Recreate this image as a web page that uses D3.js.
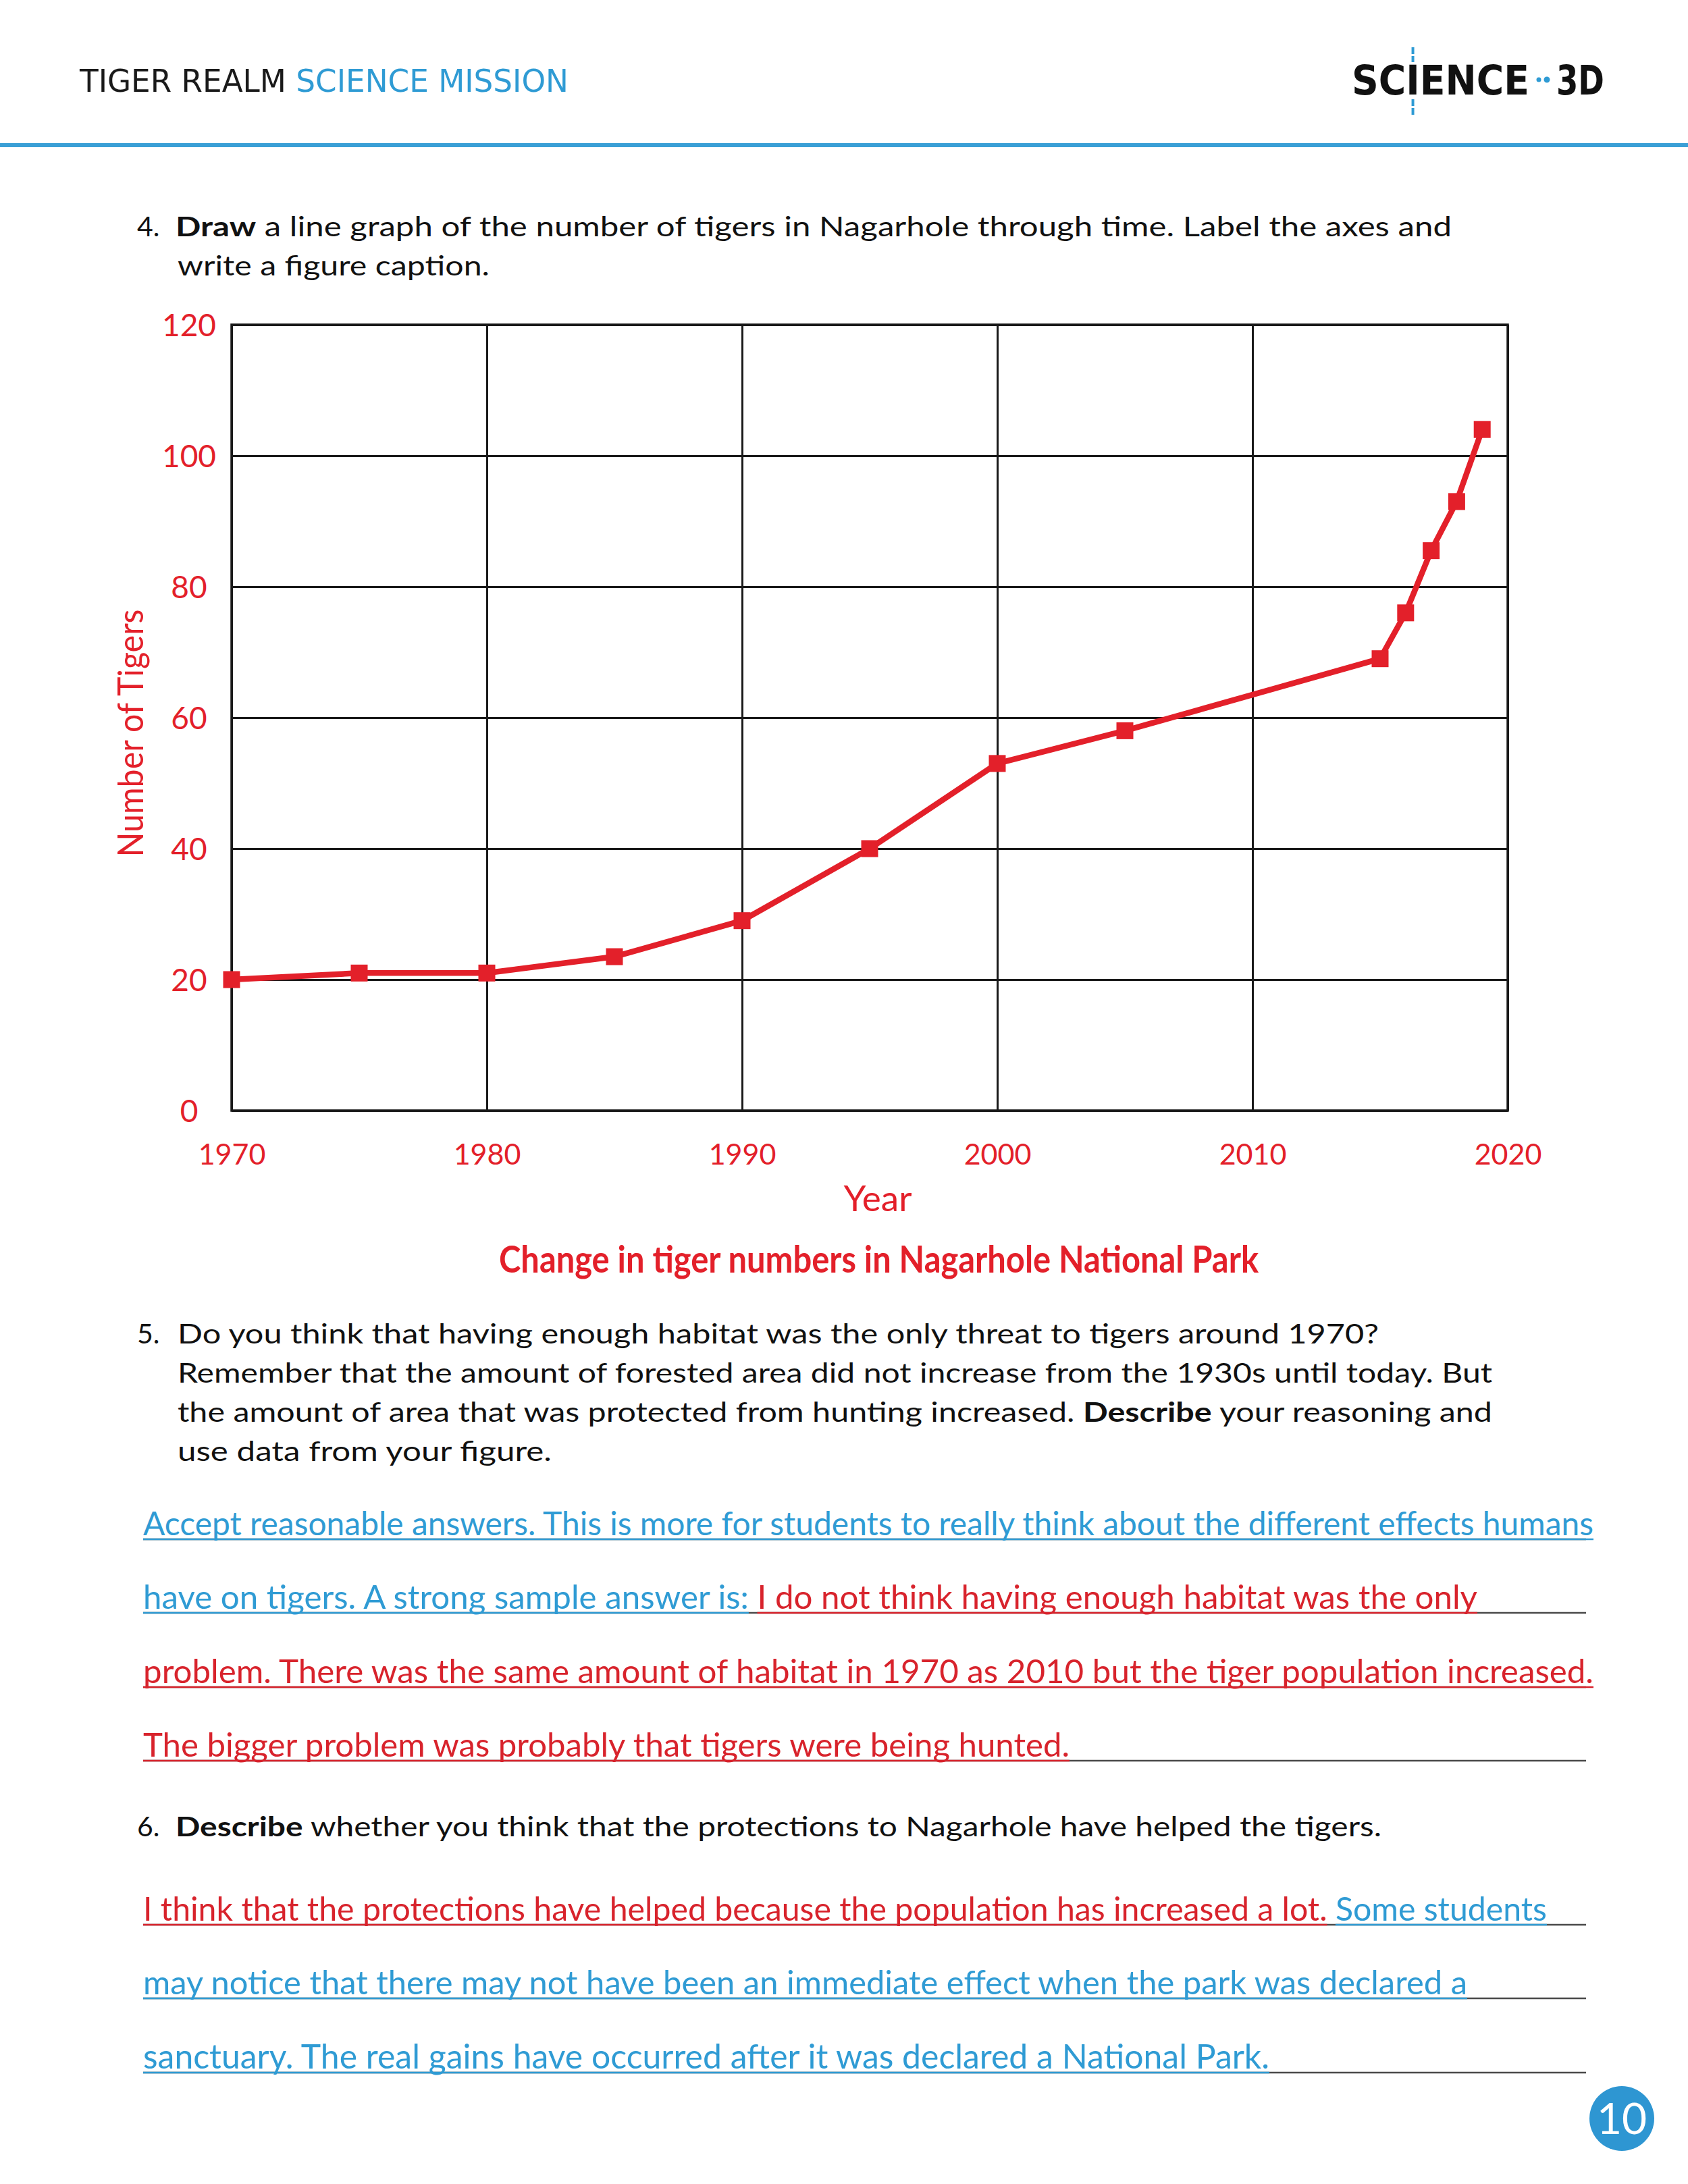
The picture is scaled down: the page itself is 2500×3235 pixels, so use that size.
<!DOCTYPE html>
<html><head><meta charset="utf-8">
<script src="https://cdn.jsdelivr.net/npm/d3@7"></script>
<style>body{margin:0;background:#fff}svg{display:block}</style>
</head><body>
<svg id="page" width="2500" height="3235"></svg>
<script>
// ---- chart data ----
const years  = [1970, 1975, 1980, 1985, 1990, 1995, 2000, 2005, 2015, 2016, 2017, 2018, 2019];
const tigers = [20, 21, 21, 23.5, 29, 40, 53, 58, 69, 76, 85.5, 93, 104];
const xTicks = [1970, 1980, 1990, 2000, 2010, 2020];
const yTicks = [0, 20, 40, 60, 80, 100, 120];
const xTitle = "Year";
const yTitle = "Number of Tigers";
const caption = "Change in tiger numbers in Nagarhole National Park";

// ---- page text ----
const q4 = [
  [{t:"Draw",b:true},{t:" a line graph of the number of tigers in Nagarhole through time. Label the axes and"}],
  [{t:"write a figure caption."}]
];
const q5 = [
  [{t:"Do you think that having enough habitat was the only threat to tigers around 1970?"}],
  [{t:"Remember that the amount of forested area did not increase from the 1930s until today. But"}],
  [{t:"the amount of area that was protected from hunting increased. "},{t:"Describe",b:true},{t:" your reasoning and"}],
  [{t:"use data from your figure."}]
];
const q6 = [
  [{t:"Describe",b:true},{t:" whether you think that the protections to Nagarhole have helped the tigers."}]
];
const a5 = [
  [{t:"Accept reasonable answers. This is more for students to really think about the different effects humans",c:"blue"}],
  [{t:"have on tigers. A strong sample answer is: ",c:"blue"},{t:"I do not think having enough habitat was the only",c:"red"}],
  [{t:"problem. There was the same amount of habitat in 1970 as 2010 but the tiger population increased.",c:"red"}],
  [{t:"The bigger problem was probably that tigers were being hunted.",c:"red"}]
];
const a6 = [
  [{t:"I think that the protections have helped because the population has increased a lot. ",c:"red"},{t:"Some students",c:"blue"}],
  [{t:"may notice that there may not have been an immediate effect when the park was declared a",c:"blue"}],
  [{t:"sanctuary. The real gains have occurred after it was declared a National Park.",c:"blue"}]
];

const RED = "#e3202a", ARED = "#d8232c", BLUE = "#2f9bd4", FONT = "Lato, 'Noto Sans', sans-serif";
const svg = d3.select("#page");

// header
const hdr = svg.append("text").attr("x",118).attr("y",136)
  .attr("font-family","'DejaVu Sans Condensed','DejaVu Sans',sans-serif").attr("font-size",46)
  .attr("textLength",724).attr("lengthAdjust","spacingAndGlyphs");
hdr.append("tspan").attr("fill","#1a1a1a").text("TIGER REALM ");
hdr.append("tspan").attr("fill",BLUE).text("SCIENCE MISSION");

// logo
const logo = svg.append("text").attr("x",2002).attr("y",140)
  .attr("font-family","'DejaVu Sans','Liberation Sans',sans-serif").attr("font-weight","bold")
  .attr("font-size",60).attr("fill","#111").attr("textLength",263).attr("lengthAdjust","spacingAndGlyphs")
  .text("SCIENCE");
svg.append("text").attr("x",2305).attr("y",140)
  .attr("font-family","'DejaVu Sans','Liberation Sans',sans-serif").attr("font-weight","bold")
  .attr("font-size",60).attr("fill","#111").attr("textLength",71).attr("lengthAdjust","spacingAndGlyphs")
  .text("3D");
svg.append("circle").attr("cx",2279).attr("cy",118).attr("r",3.5).attr("fill",BLUE);
svg.append("circle").attr("cx",2291).attr("cy",118).attr("r",4.5).attr("fill",BLUE);
let ix = 2094;
try { const e = logo.node().getExtentOfChar(2); ix = e.x + e.width/2; } catch(err) {}
[[70,92],[147,172]].forEach(([a,b]) => svg.append("line").attr("x1",ix).attr("x2",ix).attr("y1",a).attr("y2",b)
  .attr("stroke",BLUE).attr("stroke-width",4).attr("stroke-dasharray","10,3"));
svg.append("rect").attr("x",0).attr("y",212).attr("width",2500).attr("height",6).attr("fill","#3a9fd6");

// text helper: each span is its own text element; font shrinks to fit, then fine-tuned with textLength
function line(x, y, spans, size, width, opts={}) {
  const colorOf = s => s.c === "red" ? ARED : s.c === "blue" ? BLUE : "#111";
  const els = spans.map(s => svg.append("text").attr("y",y).attr("font-family",FONT).attr("font-size",size)
      .attr("font-weight", s.b ? "bold" : null).attr("fill", colorOf(s))
      .style("white-space","pre").text(s.t));
  const measure = () => els.map(e => e.node().getComputedTextLength());
  let nat = measure();
  let total = nat.reduce((a,b) => a+b, 0);
  if (total > width) {
    const fs = size * width / total;
    els.forEach(e => e.attr("font-size", fs));
    nat = measure();
    total = nat.reduce((a,b) => a+b, 0);
  }
  const k = width / total;
  let cx = x;
  els.forEach((e, i) => {
    const s = spans[i];
    const trimmed = s.t.trim();
    const nWs = s.t.length - trimmed.length;
    const lead = s.t.length - s.t.replace(/^\s+/,"").length;
    e.text(trimmed).style("white-space",null);
    const tw = e.node().getComputedTextLength();
    const leadW = nWs ? (nat[i] - tw) * (lead / nWs) : 0;
    const x0 = cx + leadW * k;
    e.attr("x", x0).attr("textLength", tw * k).attr("lengthAdjust","spacingAndGlyphs");
    if (opts.underline) {
      svg.append("line").attr("x1",x0).attr("x2",x0 + tw*k).attr("y1",y+6).attr("y2",y+6)
        .attr("stroke", colorOf(s)).attr("stroke-width",2.5);
    }
    cx += nat[i] * k;
  });
}
function num(x, y, s) {
  svg.append("text").attr("x",x).attr("y",y).attr("font-family",FONT).attr("font-size",41).attr("fill","#111").text(s);
}

// Q4
num(203,350,"4.");
line(260,350,q4[0],40,1890);
line(263,408,q4[1],40,462);

// chart
const x = d3.scaleLinear().domain([1970,2020]).range([343,2233]);
const y = d3.scaleLinear().domain([0,120]).range([1645,481]);
const gx = svg.append("g").attr("transform","translate(0,1645)")
  .call(d3.axisBottom(x).tickValues(xTicks).tickFormat(d3.format("d")).tickSize(-(1645-481)).tickSizeOuter(0));
gx.select(".domain").remove();
gx.selectAll(".tick line").attr("stroke","#1a1a1a").attr("stroke-width",3);
gx.selectAll(".tick text").attr("y",65).attr("dy","0.36em").attr("fill",RED)
  .attr("font-family",FONT).attr("font-size",43);
const gy = svg.append("g").attr("transform","translate(343,0)")
  .call(d3.axisLeft(y).tickValues(yTicks).tickSize(-(2233-343)).tickSizeOuter(0));
gy.select(".domain").remove();
gy.selectAll(".tick line").attr("stroke","#1a1a1a").attr("stroke-width",3);
gy.selectAll(".tick text").attr("x",-63).attr("text-anchor","middle").attr("dy","0.36em").attr("fill",RED)
  .attr("font-family",FONT).attr("font-size",46);
svg.append("rect").attr("x",343).attr("y",481).attr("width",2233-343).attr("height",1645-481)
  .attr("fill","none").attr("stroke","#1a1a1a").attr("stroke-width",3.5);

const pts = years.map((yr,i) => ({yr, v: tigers[i]}));
svg.append("path").datum(pts).attr("fill","none").attr("stroke",RED).attr("stroke-width",8.5)
  .attr("stroke-linejoin","round")
  .attr("d", d3.line().x(d => x(d.yr)).y(d => y(d.v)));
svg.selectAll("rect.mk").data(pts).enter().append("rect").attr("class","mk")
  .attr("x", d => x(d.yr) - 12.5).attr("y", d => y(d.v) - 12.5)
  .attr("width",25).attr("height",25).attr("fill",RED);

svg.append("text").attr("x",1300).attr("y",1794).attr("text-anchor","middle").attr("font-family",FONT)
  .attr("font-size",53).attr("fill",RED).text(xTitle);
svg.append("text").attr("transform","translate(212,1086) rotate(-90)").attr("text-anchor","middle")
  .attr("font-family",FONT).attr("font-size",53).attr("fill",RED)
  .attr("textLength",367).attr("lengthAdjust","spacingAndGlyphs").text(yTitle);
svg.append("text").attr("x",739).attr("y",1885).attr("font-family",FONT).attr("font-weight","bold")
  .attr("font-size",56).attr("fill",RED).attr("textLength",1125).attr("lengthAdjust","spacingAndGlyphs").text(caption);

// Q5
num(203,1990,"5.");
const q5w = [1779,1947,1947,554];
q5.forEach((l,i) => line(263, 1990 + i*58, l, 40, q5w[i]));

// answer rules
const ruleY5 = [2274,2383,2493,2602], ruleY6 = [2845,2954,3064];
[...ruleY5, ...ruleY6].forEach(yy => svg.append("line").attr("x1",212).attr("x2",2349)
  .attr("y1",yy+6).attr("y2",yy+6).attr("stroke","#4a4a4a").attr("stroke-width",2.5));

const a5w = [2148,1976,2148,1372];
a5.forEach((l,i) => line(212, ruleY5[i], l, 50, a5w[i], {underline:true}));

// Q6
num(203,2720,"6.");
line(260,2720,q6[0],40,1786);
const a6w = [2079,1961,1668];
a6.forEach((l,i) => line(212, ruleY6[i], l, 50, a6w[i], {underline:true}));

// page number
svg.append("circle").attr("cx",2402).attr("cy",3138).attr("r",48).attr("fill","#2e96d2");
svg.append("text").attr("x",2402).attr("y",3138).attr("dy","0.36em").attr("text-anchor","middle")
  .attr("font-family",FONT).attr("font-size",64).attr("fill","#fff").text("10");
</script>
</body></html>
